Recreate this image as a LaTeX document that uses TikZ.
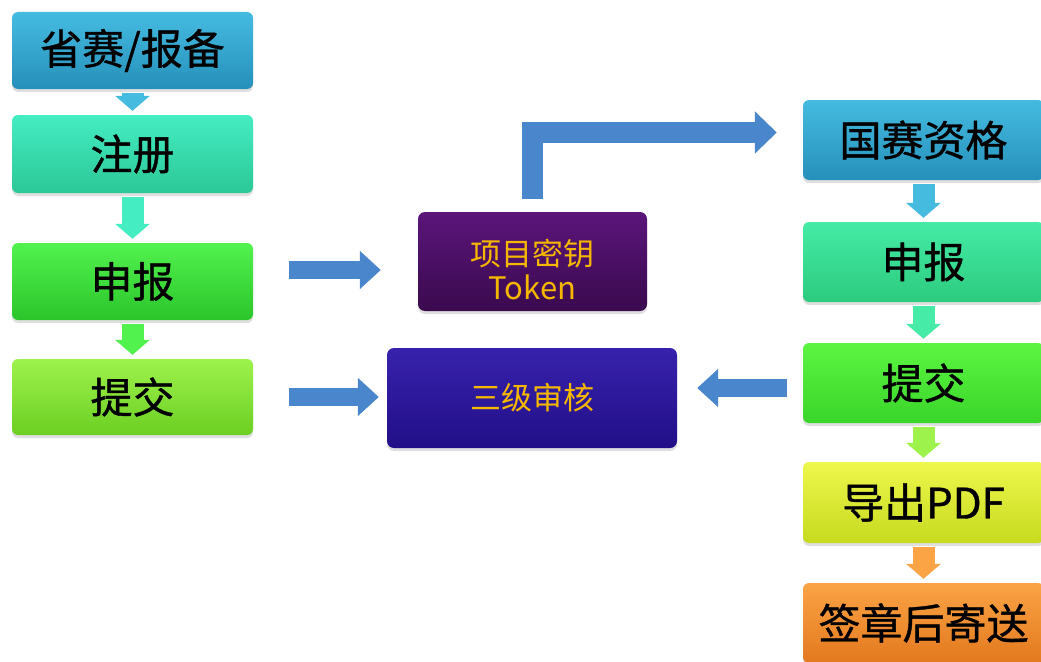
\documentclass[tikz,border=0pt]{standalone}
\usepackage{fontspec}
\setmainfont{Noto Sans CJK SC}
\newfontfamily\boxfont{Noto Sans CJK SC}[FakeBold=0.9]
\usetikzlibrary{arrows.meta,shadows}

\definecolor{skyT}{HTML}{45BBE0}
\definecolor{skyB}{HTML}{2690BA}
\definecolor{tealT}{HTML}{44EDC2}
\definecolor{tealB}{HTML}{2BC797}
\definecolor{grnT}{HTML}{52F24E}
\definecolor{grnB}{HTML}{2BC52B}
\definecolor{limeT}{HTML}{9DF24C}
\definecolor{limeB}{HTML}{6CCF22}
\definecolor{mintT}{HTML}{45EBA6}
\definecolor{mintB}{HTML}{2CCB7E}
\definecolor{vgrnT}{HTML}{5CF542}
\definecolor{vgrnB}{HTML}{3AD52A}
\definecolor{yelT}{HTML}{EEF74C}
\definecolor{yelB}{HTML}{C6DA1E}
\definecolor{orT}{HTML}{FAA445}
\definecolor{orB}{HTML}{E3781E}
\definecolor{purT}{HTML}{5B157A}
\definecolor{purB}{HTML}{3A0A4E}
\definecolor{indT}{HTML}{3722AC}
\definecolor{indB}{HTML}{220F88}
\definecolor{arrblue}{HTML}{4A86CC}
\definecolor{gold}{HTML}{F5B700}

\tikzset{
    stepbox/.style={rounded corners=6pt, minimum width=241pt, inner sep=0pt,
        drop shadow={opacity=.25, shadow xshift=0pt, shadow yshift=-3pt},
        font=\boxfont\fontsize{42}{46}\selectfont, text=black},
    keybox/.style={rounded corners=7pt, inner sep=0pt, align=center,
        drop shadow={opacity=.25, shadow xshift=0pt, shadow yshift=-3pt},
        font=\fontsize{31}{35}\selectfont, text=gold},
    downarr/.style={line width=22pt, -{Triangle[length=15pt,width=34pt]},
        shorten <=4pt, shorten >=4pt},
    bluearr/.style={arrblue, line width=18pt, line join=miter,
        -{Triangle[length=21pt,width=37pt]}},
}

\begin{document}
\begin{tikzpicture}[x=1pt,y=-1pt]
    \useasboundingbox (0,0) rectangle (1041,661);
    \clip (0,0) rectangle (1041,661);
    \fill[white] (0,0) rectangle (1041,661);

    % left column
    \node[stepbox, minimum height=77pt, top color=skyT, bottom color=skyB] (ss) at (132.5,50.5) {省赛/报备};
    \node[stepbox, minimum height=78pt, top color=tealT, bottom color=tealB] (zc) at (132.5,154) {注册};
    \node[stepbox, minimum height=77pt, top color=grnT, bottom color=grnB] (sb1) at (132.5,281.5) {申报};
    \node[stepbox, minimum height=76pt, top color=limeT, bottom color=limeB] (tj1) at (132.5,397) {提交};

    % middle
    \node[keybox, minimum width=229pt, minimum height=99pt, top color=purT, bottom color=purB] (tok) at (532.5,261.5)
        {\raisebox{-13pt}[\height][\depth]{\begin{tabular}{@{}c@{}}项目密钥\\[-2pt]Token\end{tabular}}};
    \node[keybox, minimum width=290pt, minimum height=100pt, top color=indT, bottom color=indB] (sj) at (532,398) {三级审核};

    % right column
    \node[stepbox, minimum height=80pt, top color=skyT, bottom color=skyB] (gs) at (923.5,140) {国赛资格};
    \node[stepbox, minimum height=80pt, top color=mintT, bottom color=mintB] (sb2) at (923.5,262) {申报};
    \node[stepbox, minimum height=80pt, top color=vgrnT, bottom color=vgrnB] (tj2) at (923.5,383) {提交};
    \node[stepbox, minimum height=81pt, top color=yelT, bottom color=yelB] (pdf) at (923.5,502.5) {导出PDF};
    \node[stepbox, minimum height=80pt, top color=orT, bottom color=orB] (qz) at (923.5,623) {签章后寄送};

    \foreach \a/\b/\c in {ss/zc/skyT, zc/sb1/tealT, sb1/tj1/grnT, gs/sb2/skyT, sb2/tj2/mintT, tj2/pdf/limeT, pdf/qz/orT}{
        \draw[downarr, \c] (\a.south) -- (\b.north);
        };

    \draw[bluearr, shorten <=36pt, shorten >=37pt] ([yshift=11.5pt]sb1.east) -- ([yshift=11.5pt]sb1.east -| tok.west);
    \draw[bluearr, shorten <=36pt, shorten >=8pt] (tj1.east) -- (tj1.east -| sj.west);
    \draw[bluearr, shorten <=16pt, shorten >=20pt] ([yshift=-5pt]tj2.west) -- ([yshift=-5pt]tj2.west -| sj.east);
    \draw[bluearr, line width=21pt, -{Triangle[length=22pt,width=41pt]}, shorten <=13pt, shorten >=26pt] (tok.north) |- ([yshift=7.5pt]gs.west);
\end{tikzpicture}
\end{document}
